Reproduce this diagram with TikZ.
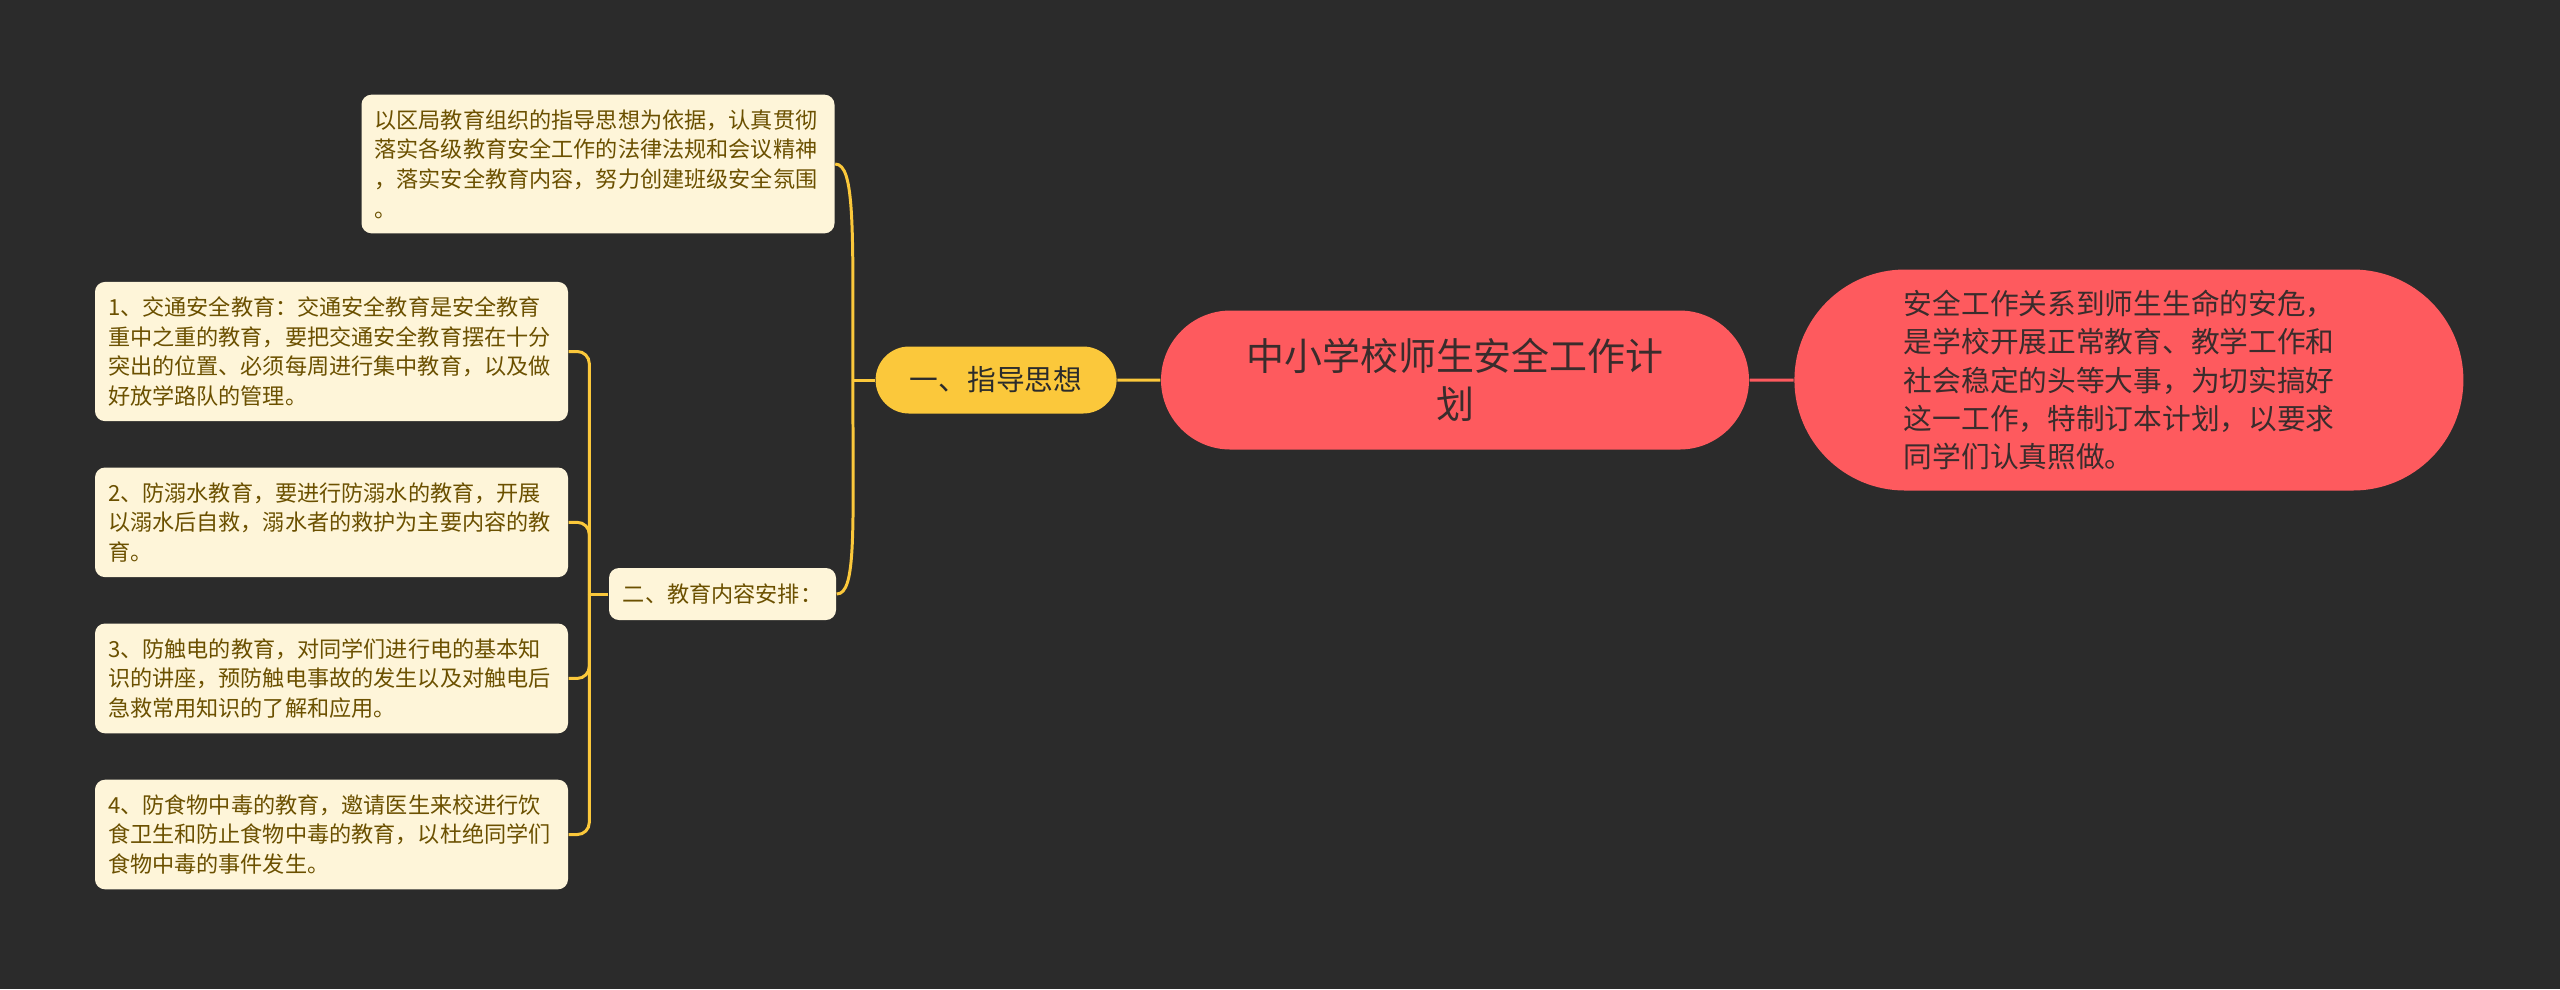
\documentclass[tikz,border=0pt]{standalone}
\usepackage{fontspec}
\newfontfamily\cjk{Noto Sans CJK SC}
\usepackage{tikz}
\usetikzlibrary{positioning,shapes.misc}

\definecolor{bgdark}{HTML}{2B2B2B}
\definecolor{planred}{HTML}{FE5A5E}
\definecolor{guideyel}{HTML}{FBC83B}
\definecolor{leafcream}{HTML}{FEF5D9}
\definecolor{leafink}{HTML}{6B5000}
\definecolor{darkink}{HTML}{3A2C2C}

\begin{document}
\begin{tikzpicture}[
    font=\cjk,
    pill/.style={
        rounded rectangle,
        inner sep=0pt,
        align=center
    },
    topic/.style={pill, fill=planred, text=darkink,
        minimum width=5.88cm, minimum height=1.39cm,
        font=\cjk\fontsize{10.8pt}{13.7pt}\selectfont},
    note/.style={pill, fill=planred, text=darkink,
        minimum width=6.69cm, minimum height=2.21cm,
        text width=4.5cm, align=left,
        font=\cjk\fontsize{8.17pt}{10.9pt}\selectfont},
    branch/.style={pill, fill=guideyel, text=bgdark,
        minimum width=2.41cm, minimum height=0.67cm,
        font=\cjk\fontsize{8.17pt}{10.9pt}\selectfont},
    leaf/.style={
        fill=leafcream,
        text=leafink,
        rounded corners=0.1cm,
        inner xsep=0.13cm,
        inner ysep=0.15cm,
        text width=4.47cm,
        align=left,
        font=\cjk\fontsize{6.3pt}{8.4pt}\selectfont
    },
    sub/.style={leaf, text width=, inner sep=0pt,
        minimum width=2.27cm, minimum height=0.52cm, align=center},
    ylink/.style={draw=guideyel, line width=0.85pt},
    rlink/.style={draw=planred, line width=0.85pt}
]

\fill[bgdark] (0,0) rectangle (25.6,-9.89);

% ============================================================
% CENTRAL TOPIC
% ============================================================
\node[topic] (plan) at (14.55,-3.80) {中小学校师生安全工作计\\划};
\node[note, right=0.44cm of plan] (intro) {安全工作关系到师生生命的安危，\\是学校开展正常教育、教学工作和\\社会稳定的头等大事，为切实搞好\\这一工作，特制订本计划，以要求\\同学们认真照做。};

\draw[rlink] (plan) -- (intro);

% ============================================================
% BRANCHES
% ============================================================
\node[branch, left=0.43cm of plan] (guide) {一、指导思想};
\node[leaf] (basis) at (5.98,-1.64) {以区局教育组织的指导思想为依据，认真贯彻\\落实各级教育安全工作的法律法规和会议精神\\，落实安全教育内容，努力创建班级安全氛围\\。};
\node[sub] (arrange) at (7.225,-5.94) {二、教育内容安排：};

\draw[ylink] (plan) -- (guide);
\draw[ylink] (guide.west) -- ++(-0.22,0) coordinate (gj);
\draw[ylink] (gj) to[out=90, in=0, out distance=1.5cm, in distance=0.2cm] (basis.east);
\draw[ylink] (gj) to[out=-90, in=0, out distance=1.5cm, in distance=0.2cm] (arrange.east);

% ============================================================
% EDUCATION ITEMS
% ============================================================
\node[leaf] (item1) at (3.315,-3.515) {1、交通安全教育：交通安全教育是安全教育\\重中之重的教育，要把交通安全教育摆在十分\\突出的位置、必须每周进行集中教育，以及做\\好放学路队的管理。};
\node[leaf, below=0.45cm of item1] (item2) {2、防溺水教育，要进行防溺水的教育，开展\\以溺水后自救，溺水者的救护为主要内容的教\\育。};
\node[leaf, below=0.45cm of item2] (item3) {3、防触电的教育，对同学们进行电的基本知\\识的讲座，预防触电事故的发生以及对触电后\\急救常用知识的了解和应用。};
\node[leaf, below=0.45cm of item3] (item4) {4、防食物中毒的教育，邀请医生来校进行饮\\食卫生和防止食物中毒的教育，以杜绝同学们\\食物中毒的事件发生。};

\draw[ylink] (arrange.west) -- ++(-0.19,0) coordinate (aj);
\foreach \n in {1,...,4}
    \draw[ylink, rounded corners=0.12cm] (aj) |- (item\n.east);

\end{tikzpicture}
\end{document}
